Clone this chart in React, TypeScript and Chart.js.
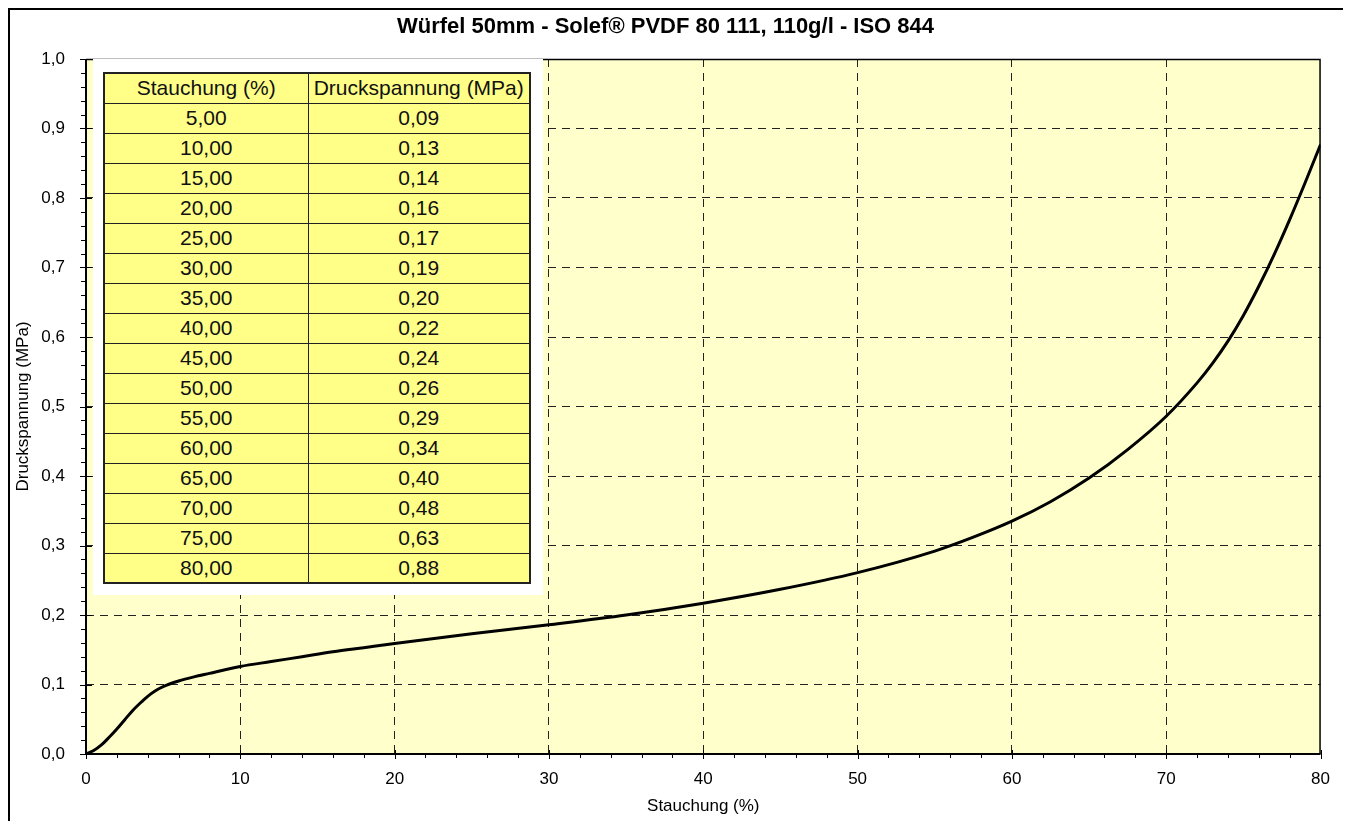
import React, { useEffect, useRef } from 'react';
import { Chart, registerables } from 'chart.js';

Chart.register(...registerables);

const titleText = 'Würfel 50mm - Solef® PVDF 80 111, 110g/l - ISO 844';
const xAxisTitle = 'Stauchung (%)';
const yAxisTitle = 'Druckspannung (MPa)';

// curve
const strainValues = [0, 0.5, 1, 1.5, 2, 2.5, 3, 3.5, 4, 4.5, 5, 6, 7, 8, 10, 12, 14, 16, 18, 20, 25, 30, 35, 40, 45, 50, 55, 57.5, 60, 62.5, 65, 67.5, 70, 72, 73, 74, 75, 76, 77, 78, 79, 80];
const stressValues = [0, 0.005, 0.013, 0.024, 0.036, 0.049, 0.062, 0.073, 0.083, 0.091, 0.097, 0.105, 0.111, 0.116, 0.126, 0.133, 0.14, 0.147, 0.153, 0.159, 0.173, 0.186, 0.2, 0.217, 0.237, 0.261, 0.292, 0.312, 0.335, 0.363, 0.397, 0.438, 0.486, 0.534, 0.562, 0.594, 0.631, 0.673, 0.719, 0.769, 0.822, 0.877];

// table in the plot
const tableHeaders = ['Stauchung (%)', 'Druckspannung (MPa)'];
const tableStrain = [5, 10, 15, 20, 25, 30, 35, 40, 45, 50, 55, 60, 65, 70, 75, 80];
const tableStress = [0.09, 0.13, 0.14, 0.16, 0.17, 0.19, 0.2, 0.22, 0.24, 0.26, 0.29, 0.34, 0.4, 0.48, 0.63, 0.88];

const xMin = 0;
const xMax = 80;
const xMajorStep = 10;
const xMinorStep = 2;
const yMin = 0;
const yMax = 1;
const yMajorStep = 0.1;
const yMinorStep = 0.02;

const fmt = (v: number, d: number) => v.toFixed(d).replace('.', ',');

const FONT = "'Liberation Sans', Arial, sans-serif";

const plotDecor = {
  id: 'plotDecor',
  beforeDraw(chart: any) {
    const { ctx, chartArea } = chart;
    if (!chartArea) return;
    ctx.save();
    ctx.fillStyle = '#FFFFCC';
    ctx.fillRect(chartArea.left, chartArea.top, chartArea.right - chartArea.left, chartArea.bottom - chartArea.top);
    ctx.restore();
  },
  afterDraw(chart: any) {
    const { ctx, chartArea } = chart;
    const { left, right, top, bottom } = chartArea;
    const xs = chart.scales.x;
    const ys = chart.scales.y;
    ctx.save();
    ctx.strokeStyle = '#000';
    ctx.setLineDash([]);
    // frame
    ctx.lineWidth = 1.5;
    ctx.beginPath();
    ctx.moveTo(left, top + 0.5);
    ctx.lineTo(right - 0.5, top + 0.5);
    ctx.lineTo(right - 0.5, bottom);
    ctx.stroke();
    ctx.lineWidth = 2;
    ctx.beginPath();
    ctx.moveTo(left, top);
    ctx.lineTo(left, bottom);
    ctx.lineTo(right, bottom);
    ctx.stroke();
    // ticks
    ctx.lineWidth = 1;
    ctx.beginPath();
    const nx = Math.round((xMax - xMin) / xMinorStep);
    const perX = Math.round(xMajorStep / xMinorStep);
    for (let i = 0; i <= nx; i++) {
      const v = xMin + i * xMinorStep;
      const px = Math.round(xs.getPixelForValue(v)) + 0.5;
      const major = i % perX === 0;
      ctx.moveTo(px, major ? bottom - 4 : bottom);
      ctx.lineTo(px, bottom + (major ? 5 : 4));
    }
    const ny = Math.round((yMax - yMin) / yMinorStep);
    const perY = Math.round(yMajorStep / yMinorStep);
    for (let i = 0; i <= ny; i++) {
      const v = yMin + i * yMinorStep;
      const py = Math.round(ys.getPixelForValue(v)) + 0.5;
      const major = i % perY === 0;
      ctx.moveTo(left - (major ? 6 : 5), py);
      ctx.lineTo(major ? left + 6 : left, py);
    }
    ctx.stroke();
    ctx.restore();
  },
};

export default function App() {
  const canvasRef = useRef<HTMLCanvasElement | null>(null);

  useEffect(() => {
    document.documentElement.style.overflow = 'hidden';
    const canvas = canvasRef.current;
    if (!canvas) return;
    const edgeX = (c: any) => (c.tick && (c.tick.value === xMin || c.tick.value === xMax) ? 'rgba(0,0,0,0)' : '#222');
    const edgeY = (c: any) => (c.tick && (Math.abs(c.tick.value - yMin) < 1e-9 || Math.abs(c.tick.value - yMax) < 1e-9) ? 'rgba(0,0,0,0)' : '#222');
    const chart = new Chart(canvas, {
      type: 'line',
      data: {
        datasets: [
          {
            data: strainValues.map((x, i) => ({ x, y: stressValues[i] })),
            borderColor: '#000',
            borderWidth: 3,
            pointRadius: 0,
            fill: false,
            tension: 0.4,
            cubicInterpolationMode: 'monotone',
          },
        ],
      },
      options: {
        responsive: false,
        animation: false,
        devicePixelRatio: 1,
        layout: { padding: { left: 0, right: 24, top: 0, bottom: 0 } },
        plugins: {
          legend: { display: false },
          tooltip: { enabled: false },
          title: {
            display: true,
            text: titleText,
            color: '#000',
            font: { family: FONT, size: 22, weight: 'bold', lineHeight: 1.2 },
            padding: { top: 4, bottom: 18.6 },
          },
        },
        scales: {
          x: {
            type: 'linear',
            min: xMin,
            max: xMax,
            afterFit: (s: any) => {
              s.height = 82;
            },
            ticks: {
              stepSize: xMajorStep,
              color: '#000',
              padding: 15,
              maxRotation: 0,
              font: { family: FONT, size: 17 },
              callback: (v: any) => String(v),
            },
            grid: { color: edgeX, lineWidth: 1, drawTicks: false },
            border: { display: false, dash: [8, 6] },
            title: {
              display: true,
              text: xAxisTitle,
              color: '#000',
              font: { family: FONT, size: 17 },
              padding: { top: 0, bottom: 19 },
            },
          },
          y: {
            type: 'linear',
            min: yMin,
            max: yMax,
            afterFit: (s: any) => {
              s.width = 76;
            },
            ticks: {
              stepSize: yMajorStep,
              color: '#000',
              padding: 21,
              font: { family: FONT, size: 17 },
              callback: (v: any) => fmt(Number(v), 1),
            },
            grid: { color: edgeY, lineWidth: 1, drawTicks: false },
            border: { display: false, dash: [8, 6] },
            title: {
              display: true,
              text: yAxisTitle,
              color: '#000',
              font: { family: FONT, size: 17 },
              padding: { top: 3, bottom: 0 },
            },
          },
        },
      },
      plugins: [plotDecor],
    } as any);
    return () => chart.destroy();
  }, []);

  const cellStyle: React.CSSProperties = {
    border: '1px solid #222',
    padding: 0,
    textAlign: 'center',
    verticalAlign: 'middle',
    background: '#FFFF88',
    color: '#111',
    fontFamily: FONT,
    fontSize: 21,
    lineHeight: '22px',
    whiteSpace: 'nowrap',
  };

  return (
    <div
      style={{
        position: 'relative',
        width: 1339,
        height: 830,
        border: '2px solid #000',
        boxSizing: 'border-box',
        background: '#fff',
      }}
    >
      <canvas ref={canvasRef} width={1335} height={826} style={{ display: 'block' }} />
      <div style={{ position: 'absolute', left: 83, top: 49, width: 450, height: 536, background: '#fff' }}>
        <table
          style={{
            position: 'absolute',
            left: 10,
            top: 13,
            width: 426,
            borderCollapse: 'collapse',
            border: '2px solid #222',
            tableLayout: 'fixed',
          }}
        >
          <colgroup>
            <col style={{ width: 204 }} />
            <col style={{ width: 222 }} />
          </colgroup>
          <tbody>
            <tr style={{ height: 30 }}>
              <td style={cellStyle}>{tableHeaders[0]}</td>
              <td style={cellStyle}>{tableHeaders[1]}</td>
            </tr>
            {tableStrain.map((s, i) => (
              <tr key={i} style={{ height: 30 }}>
                <td style={cellStyle}>{fmt(s, 2)}</td>
                <td style={cellStyle}>{fmt(tableStress[i], 2)}</td>
              </tr>
            ))}
          </tbody>
        </table>
      </div>
    </div>
  );
}
